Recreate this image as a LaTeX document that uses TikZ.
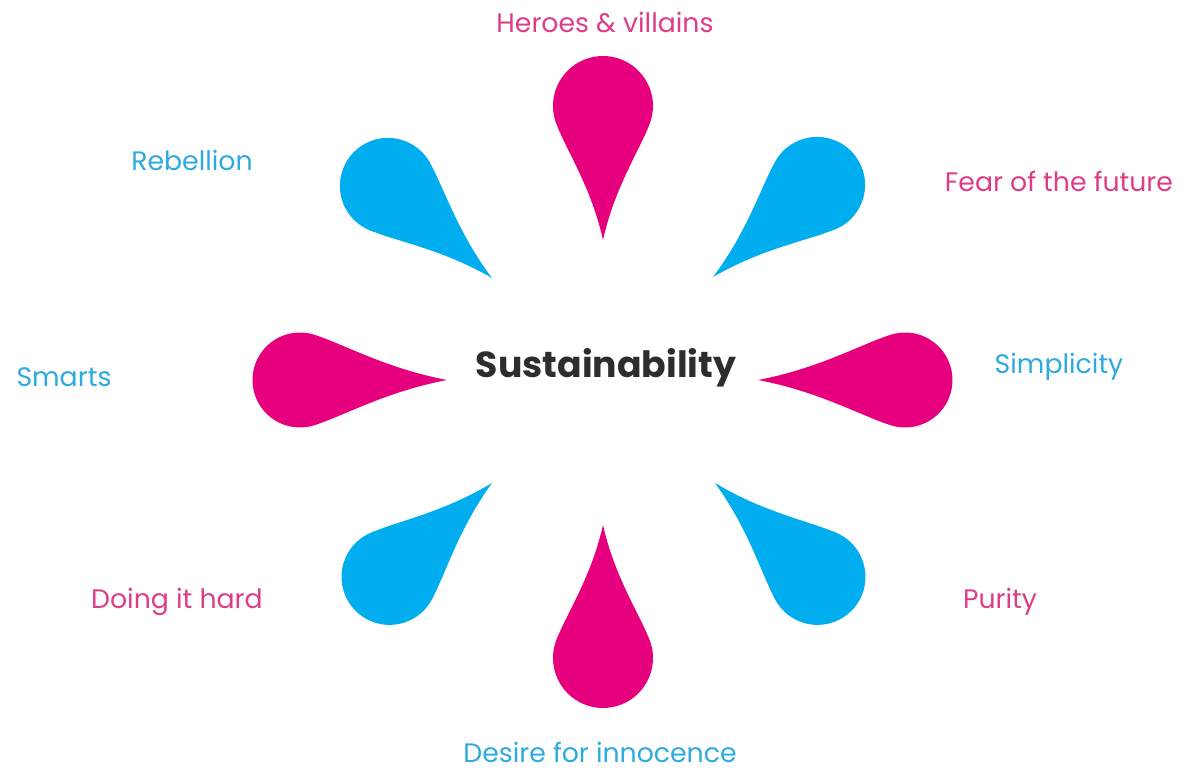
\documentclass[tikz,border=0pt]{standalone}
\usepackage{fontspec}
\setmainfont{Poppins}
\definecolor{dropPink}{RGB}{230,0,126}
\definecolor{dropBlue}{RGB}{0,174,239}
\definecolor{textPink}{RGB}{222,60,135}
\definecolor{textBlue}{RGB}{45,170,222}
\definecolor{darkText}{RGB}{45,45,45}
\tikzset{
  theme/.style={anchor=base, font=\fontsize{7.6}{9}\selectfont},
  hub/.style={anchor=base, text=darkText, font=\fontsize{10.3}{12}\selectfont\bfseries}
}
\begin{document}
\begin{tikzpicture}[x=0.01cm,y=0.01cm]
    \useasboundingbox (0,0) rectangle (1184,769);
    % drops: colour / tip x / tip y / angle / length / radius
    \foreach \c/\x/\y/\a/\l/\r in {dropPink/603/529/90/134/50, dropBlue/713/492/41.5/139/48,
        dropPink/758/389/0/147/47.5, dropBlue/715/286/-42.5/139/48,
        dropPink/603/244/-90/133/50, dropBlue/492/286/222.5/139/48,
        dropPink/447/389/180/147/47.5, dropBlue/492/491/138.5/139/48}
    {
        \pgfmathsetmacro\t{180-acos(\r/\l)}
        \pgfmathsetmacro\jx{\l+\r*cos(\t)}
        \pgfmathsetmacro\jy{\r*sin(\t)}
        \fill[\c, shift={(\x,\y)}, rotate=\a]
            (0,0) .. controls ({0.45*\jx},{0.25*\jy}) and ({0.75*\jx},{0.75*\jy}) .. (\jx,\jy)
            arc[start angle=\t, end angle=-\t, radius=\r]
            .. controls ({0.75*\jx},{-0.75*\jy}) and ({0.45*\jx},{-0.25*\jy}) .. (0,0);
    }
    \node[hub] (hub) at (606,392) {Sustainability};
    \node[theme, text=textPink] (heroes) at (605,736) {Heroes \& villains};
    \node[theme, text=textBlue] (rebellion) at (192,598) {Rebellion};
    \node[theme, text=textPink] (fear) at (1059,577) {Fear of the future};
    \node[theme, text=textBlue] (smarts) at (64,383) {Smarts};
    \node[theme, text=textBlue] (simplicity) at (1059,396) {Simplicity};
    \node[theme, text=textPink] (hard) at (177,161) {Doing it hard};
    \node[theme, text=textPink] (purity) at (1000,161) {Purity};
    \node[theme, text=textBlue] (innocence) at (600,7) {Desire for innocence};
\end{tikzpicture}
\end{document}
